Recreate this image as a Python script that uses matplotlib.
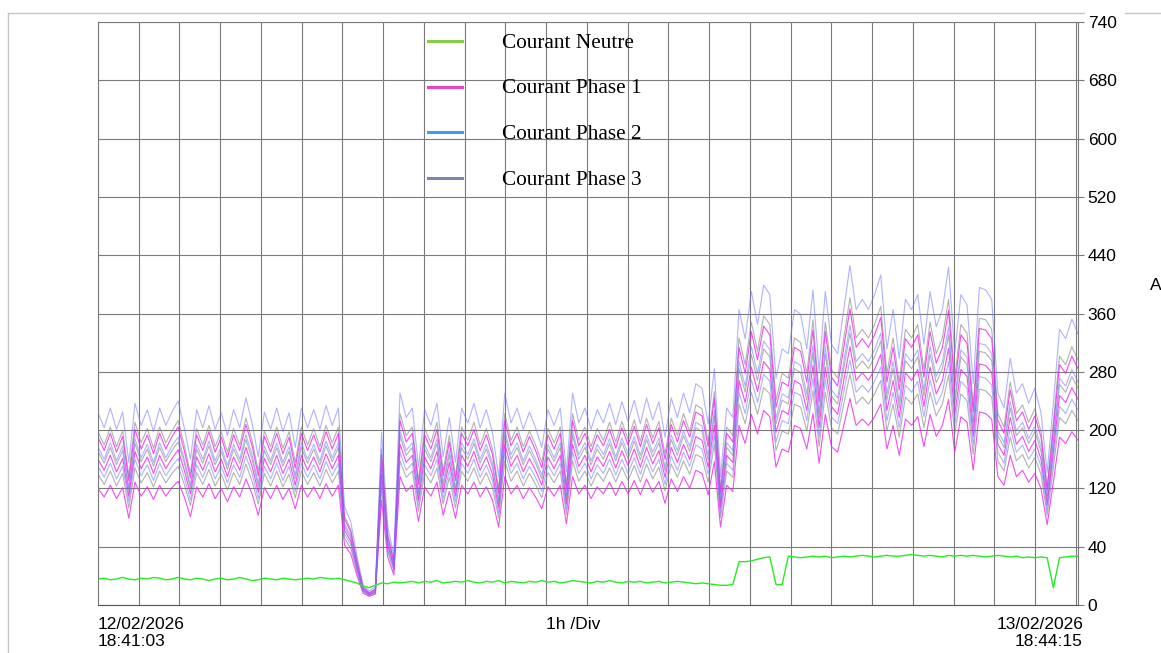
import numpy as np
import matplotlib
matplotlib.use('Agg')
import matplotlib.pyplot as plt
from matplotlib.lines import Line2D

# *********************
# DATA
# *********************
debut = "12/02/2026\n18:41:03"
fin = "13/02/2026\n18:44:15"
echelle = "1h /Div"
duree_h = 24 + 3 / 60 + 12 / 3600

y_labels = ['0', '40', '120', '200', '280', '360', '440', '520', '600', '680', '740']
legende = ['Courant Neutre', 'Courant Phase 1', 'Courant Phase 2', 'Courant Phase 3']

neutre = [
    33, 34, 32, 33, 35, 33, 32, 34, 33, 35, 34, 32, 33, 35, 33, 32, 34, 33, 31, 33,
    34, 32, 33, 35, 33, 31, 32, 34, 33, 32, 34, 33, 32, 33, 34, 33, 35, 34, 33, 34,
    32, 30, 28, 24, 22, 25, 28, 27, 29, 28,
    29, 30, 28, 30, 29, 31, 28, 29, 30, 29, 31, 29, 28, 30, 29, 31, 28, 30, 29, 28,
    30, 29, 31, 29, 30, 28, 29, 31, 30, 29, 28, 30, 29, 31, 29, 28, 30, 29, 30, 28,
    29, 30, 28, 29, 30, 29, 28, 27, 28, 27,
    26, 25, 25, 26, 55, 55, 56, 58, 60, 61, 26, 26,
    62, 61, 60, 61, 62, 61, 62, 60, 61, 62, 61, 62, 63, 62, 61, 62, 63, 62, 62, 63,
    64, 63, 62, 63, 62, 61, 63, 62, 63, 62, 63, 62, 61, 62, 63, 62, 61, 62, 60, 61,
    60, 61, 60, 22, 60, 61, 62, 62,
]

ph1_max = [
    213, 196, 218, 194, 214, 158, 223, 198, 216, 192, 218, 198, 214, 226, 196, 161, 216, 196, 220, 194,
    213, 187, 216, 196, 229, 202, 164, 214, 194, 218, 192, 213, 174, 218, 196, 216, 194, 220, 198, 218,
    109, 93, 55, 22, 15, 20, 191, 87, 55, 234, 207, 218, 153, 216, 198, 223, 164, 207, 158, 218,
    202, 223, 196, 216, 191, 142, 234, 202, 218, 194, 214, 196, 174, 216, 198, 218, 147, 234, 202, 218,
    194, 216, 202, 223, 199, 225, 203, 227, 201, 229, 205, 225, 185, 229, 207, 234, 213, 245, 240, 201,
    262, 142, 218, 207, 327, 294, 347, 311, 354, 343, 251, 283, 278, 327, 322, 283, 349, 258, 347, 289,
    278, 327, 376, 327, 338, 327, 343, 365, 283, 327, 273, 338, 327, 343, 289, 347, 307, 327, 374, 278,
    343, 332, 245, 351, 349, 338, 234, 218, 273, 234, 245, 223, 240, 213, 146, 223, 305, 294, 316, 300,
]
ph1_moy = [
    185, 171, 190, 169, 186, 138, 195, 173, 188, 167, 190, 173, 186, 197, 171, 141, 188, 171, 192, 169,
    185, 163, 188, 171, 200, 176, 143, 186, 169, 190, 167, 185, 152, 190, 171, 188, 169, 192, 173, 190,
    95, 81, 48, 19, 13, 17, 166, 76, 48, 204, 181, 190, 133, 188, 173, 195, 143, 181, 138, 190,
    176, 195, 171, 188, 166, 124, 204, 176, 190, 169, 186, 171, 152, 188, 173, 190, 128, 204, 176, 190,
    169, 188, 176, 195, 174, 196, 177, 198, 175, 200, 179, 196, 162, 200, 181, 204, 185, 214, 209, 175,
    228, 124, 190, 181, 285, 257, 302, 271, 309, 299, 219, 247, 242, 285, 280, 247, 304, 225, 302, 252,
    242, 285, 328, 285, 295, 285, 299, 318, 247, 285, 238, 295, 285, 299, 252, 302, 268, 285, 326, 242,
    299, 290, 214, 306, 304, 295, 204, 190, 238, 204, 214, 195, 209, 185, 127, 195, 266, 257, 276, 261,
]
ph1_min = [
    148, 137, 152, 135, 149, 110, 156, 138, 150, 134, 152, 138, 149, 157, 137, 112, 150, 137, 154, 135,
    148, 131, 150, 137, 160, 141, 114, 149, 135, 152, 134, 148, 122, 152, 137, 150, 135, 154, 138, 152,
    76, 65, 38, 15, 11, 14, 133, 61, 38, 163, 144, 152, 106, 150, 138, 156, 114, 144, 110, 152,
    141, 156, 137, 150, 133, 99, 163, 141, 152, 135, 149, 137, 122, 150, 138, 152, 103, 163, 141, 152,
    135, 150, 141, 156, 139, 157, 141, 158, 140, 160, 143, 157, 129, 160, 144, 163, 148, 171, 167, 140,
    182, 99, 152, 144, 228, 205, 242, 217, 247, 239, 175, 198, 194, 228, 224, 198, 243, 180, 242, 201,
    194, 228, 262, 228, 236, 228, 239, 255, 198, 228, 190, 236, 228, 239, 201, 242, 214, 228, 261, 194,
    239, 232, 171, 245, 243, 236, 163, 152, 190, 163, 171, 156, 167, 148, 102, 156, 213, 205, 220, 209,
]

ph2_max = [
    244, 225, 250, 223, 245, 181, 256, 228, 248, 220, 250, 228, 245, 259, 225, 185, 248, 225, 253, 223,
    244, 215, 248, 225, 263, 231, 188, 245, 223, 250, 220, 244, 200, 250, 225, 248, 223, 253, 228, 250,
    125, 106, 63, 25, 18, 23, 219, 100, 63, 269, 238, 250, 175, 248, 228, 256, 188, 238, 181, 250,
    231, 256, 225, 248, 219, 163, 269, 231, 250, 223, 245, 225, 200, 248, 228, 250, 169, 269, 231, 250,
    223, 248, 231, 256, 229, 258, 233, 260, 230, 263, 235, 258, 213, 263, 238, 269, 244, 281, 275, 230,
    300, 163, 250, 238, 375, 338, 398, 356, 406, 394, 288, 325, 319, 375, 369, 325, 400, 296, 398, 331,
    319, 375, 431, 375, 388, 375, 394, 419, 325, 375, 313, 388, 375, 394, 331, 398, 353, 375, 429, 319,
    394, 381, 281, 403, 400, 388, 269, 250, 313, 269, 281, 256, 275, 244, 168, 256, 350, 338, 363, 344,
]
ph2_moy = [
    201, 185, 206, 183, 202, 149, 211, 187, 204, 181, 206, 187, 202, 213, 185, 152, 204, 185, 208, 183,
    201, 177, 204, 185, 216, 191, 155, 202, 183, 206, 181, 201, 165, 206, 185, 204, 183, 208, 187, 206,
    103, 88, 52, 21, 14, 19, 180, 82, 52, 221, 196, 206, 144, 204, 187, 211, 155, 196, 149, 206,
    191, 211, 185, 204, 180, 134, 221, 191, 206, 183, 202, 185, 165, 204, 187, 206, 139, 221, 191, 206,
    183, 204, 191, 211, 188, 212, 192, 214, 190, 216, 194, 212, 175, 216, 196, 221, 201, 232, 227, 190,
    247, 134, 206, 196, 309, 278, 328, 294, 335, 324, 237, 268, 263, 309, 304, 268, 330, 244, 328, 273,
    263, 309, 355, 309, 319, 309, 324, 345, 268, 309, 258, 319, 309, 324, 273, 328, 290, 309, 353, 263,
    324, 314, 232, 332, 330, 319, 221, 206, 258, 221, 232, 211, 227, 201, 138, 211, 288, 278, 299, 283,
]
ph2_min = [
    176, 162, 180, 160, 176, 131, 185, 164, 178, 158, 180, 164, 176, 186, 162, 133, 178, 162, 182, 160,
    176, 155, 178, 162, 189, 167, 135, 176, 160, 180, 158, 176, 144, 180, 162, 178, 160, 182, 164, 180,
    90, 77, 45, 18, 13, 16, 158, 72, 45, 194, 171, 180, 126, 178, 164, 185, 135, 171, 131, 180,
    167, 185, 162, 178, 158, 117, 194, 167, 180, 160, 176, 162, 144, 178, 164, 180, 122, 194, 167, 180,
    160, 178, 167, 185, 165, 185, 167, 187, 166, 189, 169, 185, 153, 189, 171, 194, 176, 203, 198, 166,
    216, 117, 180, 171, 270, 243, 286, 257, 293, 284, 207, 234, 230, 270, 266, 234, 288, 213, 286, 239,
    230, 270, 311, 270, 279, 270, 284, 302, 234, 270, 225, 279, 270, 284, 239, 286, 254, 270, 309, 230,
    284, 275, 203, 290, 288, 279, 194, 180, 225, 194, 203, 185, 198, 176, 121, 185, 252, 243, 261, 248,
]

ph3_max = [
    220, 203, 226, 201, 221, 164, 232, 206, 224, 199, 226, 206, 221, 234, 203, 167, 224, 203, 228, 201,
    220, 194, 224, 203, 237, 209, 170, 221, 201, 226, 199, 220, 181, 226, 203, 224, 201, 228, 206, 226,
    113, 96, 57, 23, 16, 20, 198, 90, 57, 243, 215, 226, 158, 224, 206, 232, 170, 215, 164, 226,
    209, 232, 203, 224, 198, 147, 243, 209, 226, 201, 221, 203, 181, 224, 206, 226, 153, 243, 209, 226,
    201, 224, 209, 232, 207, 233, 210, 235, 208, 237, 212, 233, 192, 237, 215, 243, 220, 254, 249, 208,
    271, 147, 226, 215, 339, 305, 359, 322, 367, 356, 260, 294, 288, 339, 333, 294, 362, 268, 359, 299,
    288, 339, 390, 339, 350, 339, 356, 379, 294, 339, 283, 350, 339, 356, 299, 359, 319, 339, 388, 288,
    356, 345, 254, 364, 362, 350, 243, 226, 283, 243, 254, 232, 249, 220, 151, 232, 316, 305, 328, 311,
]
ph3_moy = [
    195, 180, 200, 178, 196, 145, 205, 182, 198, 176, 200, 182, 196, 207, 180, 148, 198, 180, 202, 178,
    195, 172, 198, 180, 210, 185, 150, 196, 178, 200, 176, 195, 160, 200, 180, 198, 178, 202, 182, 200,
    100, 85, 50, 20, 14, 18, 175, 80, 50, 215, 190, 200, 140, 198, 182, 205, 150, 190, 145, 200,
    185, 205, 180, 198, 175, 130, 215, 185, 200, 178, 196, 180, 160, 198, 182, 200, 135, 215, 185, 200,
    178, 198, 185, 205, 183, 206, 186, 208, 184, 210, 188, 206, 170, 210, 190, 215, 195, 225, 220, 184,
    240, 130, 200, 190, 300, 270, 318, 285, 325, 315, 230, 260, 255, 300, 295, 260, 320, 237, 318, 265,
    255, 300, 345, 300, 310, 300, 315, 335, 260, 300, 250, 310, 300, 315, 265, 318, 282, 300, 343, 255,
    315, 305, 225, 322, 320, 310, 215, 200, 250, 215, 225, 205, 220, 195, 134, 205, 280, 270, 290, 275,
]
ph3_min = [
    166, 153, 170, 151, 167, 123, 174, 155, 168, 150, 170, 155, 167, 176, 153, 126, 168, 153, 172, 151,
    166, 146, 168, 153, 179, 157, 128, 167, 151, 170, 150, 166, 136, 170, 153, 168, 151, 172, 155, 170,
    85, 72, 43, 17, 12, 15, 149, 68, 43, 183, 162, 170, 119, 168, 155, 174, 128, 162, 123, 170,
    157, 174, 153, 168, 149, 111, 183, 157, 170, 151, 167, 153, 136, 168, 155, 170, 115, 183, 157, 170,
    151, 168, 157, 174, 156, 175, 158, 177, 156, 179, 160, 175, 145, 179, 162, 183, 166, 191, 187, 156,
    204, 111, 170, 162, 255, 230, 270, 242, 276, 268, 196, 221, 217, 255, 251, 221, 272, 201, 270, 225,
    217, 255, 293, 255, 264, 255, 268, 285, 221, 255, 213, 264, 255, 268, 225, 270, 240, 255, 292, 217,
    268, 259, 191, 274, 272, 264, 183, 170, 213, 183, 191, 174, 187, 166, 114, 174, 238, 230, 247, 234,
]

# *********************
# STYLE
# *********************
W, H = 1161, 653
SANS = 'Liberation Sans'
SERIF = 'Liberation Serif'
GRID = '#7a7a7a'
COL_NEUTRE = '#22ee22'
COL_PH1 = '#ee22ee'
COL_PH2 = '#6f74ff'
COL_PH3 = '#7f7f7f'
LEG_COLS = ['#88cc44', '#ee44bb', '#4499ff', '#7788aa']


def fx(px):
    return px / W


def fy(px):
    return 1 - px / H


# *********************
# PLOT
# *********************
fig = plt.figure(figsize=(W / 100, H / 100), dpi=100)
ax = fig.add_axes([fx(98), fy(605), fx(980), 583 / H])

t = np.linspace(0, duree_h, len(neutre))

for serie in (ph3_max, ph3_moy, ph3_min):
    ax.plot(t, serie, color=COL_PH3, lw=0.8, alpha=0.6)
for serie in (ph1_max, ph1_moy, ph1_min):
    ax.plot(t, serie, color=COL_PH1, lw=0.8, alpha=0.8)
for serie in (ph2_max, ph2_moy, ph2_min):
    ax.plot(t, serie, color=COL_PH2, lw=0.8, alpha=0.55)
ax.plot(t, neutre, color=COL_NEUTRE, lw=1.0)

ax.set_xlim(0, duree_h)
ax.set_ylim(0, 740)
ax.set_xticks(np.arange(0, 25))
ax.set_xticklabels([])
ax.set_yticks(np.linspace(0, 740, 11))
ax.set_yticklabels(y_labels, fontfamily=SANS, fontsize=12.5)
ax.yaxis.tick_right()
ax.tick_params(axis='x', length=0)
ax.tick_params(axis='y', length=4, width=0.8, color=GRID, pad=3)
ax.grid(True, color=GRID, lw=0.8)
for side in ('left', 'top', 'right'):
    ax.spines[side].set_color(GRID)
    ax.spines[side].set_linewidth(0.8)
ax.spines['bottom'].set_color('#555555')

# bottom time labels
fig.text(fx(98), fy(617), debut, ha='left', va='top', fontfamily=SANS,
         fontsize=12.5, linespacing=1.2)
fig.text(fx(1083), fy(617), fin, ha='right', va='top', fontfamily=SANS,
         fontsize=12.5, linespacing=1.2, multialignment='right')
fig.text(fx(573), fy(617), echelle, ha='center', va='top', fontfamily=SANS, fontsize=12.5)
fig.text(fx(1150), fy(285), 'A', ha='left', va='center', fontfamily=SANS, fontsize=12.5)

# legend
for k, (nom, col) in enumerate(zip(legende, LEG_COLS)):
    y = fy(41 + k * 45.7)
    fig.add_artist(Line2D([fx(428), fx(462)], [y, y], color=col, lw=2.2))
    fig.text(fx(502), fy(43 + k * 45.7), nom, ha='left', va='center',
             fontfamily=SERIF, fontsize=15.3)

# outer frame
frame = dict(color='#c4c4c4', lw=1.0)
fig.add_artist(Line2D([fx(8), fx(1084)], [fy(13), fy(13)], **frame))
fig.add_artist(Line2D([fx(1125), fx(1161)], [fy(13), fy(13)], **frame))
fig.add_artist(Line2D([fx(8), fx(8)], [fy(13), 0], **frame))

fig.savefig('out.png', dpi=100)
